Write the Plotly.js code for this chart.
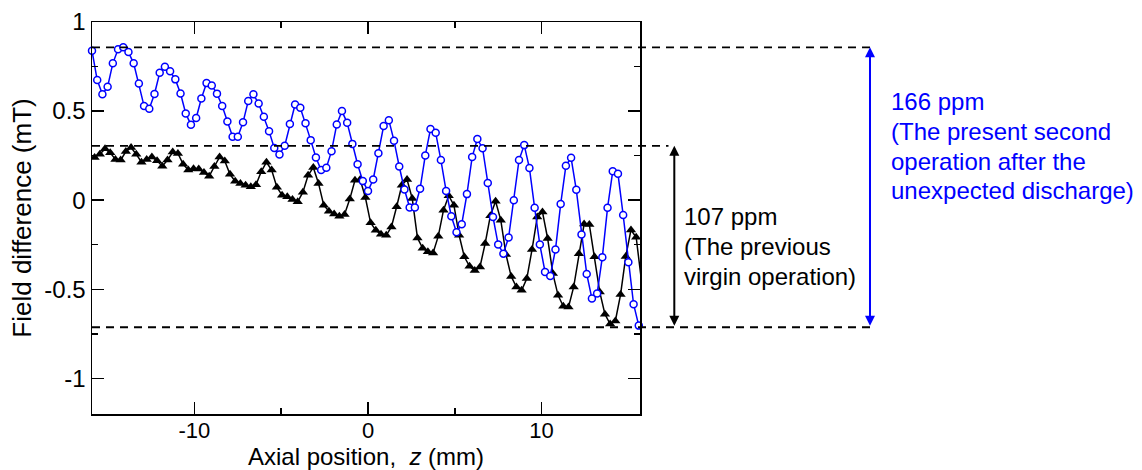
<!DOCTYPE html>
<html>
<head>
<meta charset="utf-8">
<script src="https://cdn.plot.ly/plotly-3.0.1.min.js"></script>
<style>
  html, body { margin: 0; padding: 0; background: #fff; }
  #chart { width: 1142px; height: 470px; }
</style>
</head>
<body>
<div id="chart"></div>
<script>
// Axial positions (mm) of the present second operation (blue circles), 0.3 mm pitch
const zPresent = [-15.9,-15.6,-15.3,-15.0,-14.7,-14.4,-14.1,-13.8,-13.5,-13.2,
  -12.9,-12.6,-12.3,-12.0,-11.7,-11.4,-11.1,-10.8,-10.5,-10.2,
  -9.9,-9.6,-9.3,-9.0,-8.7,-8.4,-8.1,-7.8,-7.5,-7.2,
  -6.9,-6.6,-6.3,-6.0,-5.7,-5.4,-5.1,-4.8,-4.5,-4.2,
  -3.9,-3.6,-3.3,-3.0,-2.7,-2.4,-2.1,-1.8,-1.5,-1.2,
  -0.9,-0.6,-0.3,0.0,0.3,0.6,0.9,1.2,1.5,1.8,
  2.1,2.4,2.7,3.0,3.3,3.6,3.9,4.2,4.5,4.8,
  5.1,5.4,5.7,6.0,6.3,6.6,6.9,7.2,7.5,7.8,
  8.1,8.4,8.7,9.0,9.3,9.6,9.9,10.2,10.5,10.8,
  11.1,11.4,11.7,12.0,12.3,12.6,12.9,13.2,13.5,13.8,
  14.1,14.4,14.7,15.0,15.3,15.6];
// Field difference (mT), present second operation after the unexpected discharge
const bPresent = [0.839,0.674,0.594,0.637,0.768,0.847,0.858,0.831,0.768,0.655,
  0.528,0.513,0.596,0.715,0.749,0.723,0.678,0.599,0.487,0.423,
  0.461,0.571,0.657,0.644,0.598,0.529,0.441,0.356,0.356,0.437,
  0.556,0.594,0.542,0.468,0.387,0.293,0.257,0.305,0.427,0.537,
  0.519,0.432,0.337,0.240,0.169,0.182,0.275,0.425,0.500,0.434,
  0.316,0.202,0.107,0.052,0.116,0.264,0.416,0.449,0.333,0.189,
  0.060,-0.041,-0.041,0.064,0.251,0.399,0.378,0.225,0.052,-0.090,
  -0.180,-0.135,0.034,0.242,0.343,0.292,0.097,-0.094,-0.249,-0.300,
  -0.210,0.000,0.225,0.309,0.180,-0.043,-0.249,-0.403,-0.425,-0.277,
  -0.022,0.193,0.238,0.058,-0.193,-0.414,-0.552,-0.524,-0.320,-0.043,
  0.163,0.148,-0.083,-0.348,-0.584,-0.704];

// Axial positions (mm) of the previous virgin operation (black triangles), 0.3 mm pitch
const zPrevious = [-15.75,-15.45,-15.15,-14.85,-14.55,-14.25,-13.95,-13.65,-13.35,-13.05,
  -12.75,-12.45,-12.15,-11.85,-11.55,-11.25,-10.95,-10.65,-10.35,-10.05,
  -9.75,-9.45,-9.15,-8.85,-8.55,-8.25,-7.95,-7.65,-7.35,-7.05,
  -6.75,-6.45,-6.15,-5.85,-5.55,-5.25,-4.95,-4.65,-4.35,-4.05,
  -3.75,-3.45,-3.15,-2.85,-2.55,-2.25,-1.95,-1.65,-1.35,-1.05,
  -0.75,-0.45,-0.15,0.15,0.45,0.75,1.05,1.35,1.65,1.95,
  2.25,2.55,2.85,3.15,3.45,3.75,4.05,4.35,4.65,4.95,
  5.25,5.55,5.85,6.15,6.45,6.75,7.05,7.35,7.65,7.95,
  8.25,8.55,8.85,9.15,9.45,9.75,10.05,10.35,10.65,10.95,
  11.25,11.55,11.85,12.15,12.45,12.75,13.05,13.35,13.65,13.95,
  14.25,14.55,14.85,15.15,15.45,15.75];
// Field difference (mT), previous virgin operation
const bPrevious = [0.240,0.258,0.288,0.266,0.229,0.225,0.273,0.296,0.258,0.213,
  0.229,0.243,0.221,0.191,0.225,0.270,0.262,0.202,0.169,0.176,
  0.175,0.155,0.135,0.189,0.242,0.220,0.145,0.106,0.094,0.084,
  0.075,0.087,0.160,0.213,0.169,0.073,0.028,0.019,0.004,-0.009,
  0.045,0.140,0.184,0.094,-0.028,-0.062,-0.077,-0.090,-0.080,0.006,
  0.112,0.116,0.015,-0.127,-0.169,-0.191,-0.197,-0.150,-0.037,0.084,
  0.116,0.009,-0.212,-0.270,-0.290,-0.296,-0.202,-0.056,0.025,-0.028,
  -0.197,-0.318,-0.371,-0.395,-0.375,-0.243,-0.087,-0.006,-0.112,-0.305,
  -0.428,-0.487,-0.506,-0.440,-0.277,-0.095,-0.066,-0.215,-0.412,-0.534,
  -0.595,-0.600,-0.487,-0.300,-0.134,-0.136,-0.318,-0.515,-0.640,-0.695,
  -0.678,-0.530,-0.316,-0.167,-0.208,-0.450];

// Reference levels (mT): max/min of each data set
const levelPresentMax = 0.858;
const levelPreviousMax = 0.305;
const levelCommonMin = -0.713;

// Tick labels
const xTickVals = [-10, 0, 10];
const xTickText = ['-10', '0', '10'];
const xMinorVals = [-5, 5];
const yTickVals = [-1, -0.5, 0, 0.5, 1];
const yTickText = ['-1', '-0.5', '0', '0.5', '1'];
const yMinorVals = [-0.75, -0.25, 0.25, 0.75];

// Annotation text lines
const previousLines = ['107 ppm', '(The previous', 'virgin operation)'];
const previousLineY = [-0.094, -0.258, -0.427];
const presentLines = ['166 ppm', '(The present second', 'operation after the', 'unexpected discharge)'];
const presentLineY = [0.552, 0.384, 0.219, 0.052];

const FONT = '"Liberation Sans", Arial, sans-serif';
const BLUE = '#0000ff';

const traces = [
  {
    x: zPrevious, y: bPrevious, type: 'scatter', mode: 'lines+markers',
    line: { color: '#000', width: 1.5 },
    marker: { symbol: 'triangle-up', size: 9, color: '#000' },
    cliponaxis: true, showlegend: false, hoverinfo: 'skip'
  },
  {
    x: zPresent, y: bPresent, type: 'scatter', mode: 'lines+markers',
    line: { color: BLUE, width: 1.5 },
    marker: { symbol: 'circle', size: 7, color: '#fff', line: { color: BLUE, width: 1.5 } },
    cliponaxis: false, showlegend: false, hoverinfo: 'skip'
  }
];

const axisCommon = {
  showline: true, linecolor: '#000', linewidth: 1.5, mirror: 'ticks',
  ticks: 'inside', ticklen: 12, tickwidth: 1.5, tickcolor: '#000',
  showgrid: false, zeroline: false,
  tickmode: 'array'
};

const dash = '8px,6px';
const shapes = [
  { type: 'line', xref: 'paper', yref: 'y', x0: 0, x1: 1.42, y0: levelPresentMax, y1: levelPresentMax,
    line: { color: '#000', width: 1.8, dash: dash } },
  { type: 'line', xref: 'paper', yref: 'y', x0: 0, x1: 1.052, y0: levelPreviousMax, y1: levelPreviousMax,
    line: { color: '#000', width: 1.8, dash: dash } },
  { type: 'line', xref: 'paper', yref: 'y', x0: 0, x1: 1.42, y0: levelCommonMin, y1: levelCommonMin,
    line: { color: '#000', width: 1.8, dash: dash } }
];

const arrowCommon = {
  xref: 'paper', yref: 'y', axref: 'pixel', ayref: 'y', ax: 0,
  text: '', showarrow: true, arrowside: 'end+start',
  arrowhead: 2, startarrowhead: 2, arrowsize: 1, startarrowsize: 1,
  arrowwidth: 2, standoff: 0, startstandoff: 0
};

const annotations = [
  Object.assign({}, arrowCommon, { x: 1.0626, y: levelPreviousMax, ay: levelCommonMin, arrowcolor: '#000' }),
  Object.assign({}, arrowCommon, { x: 1.4197, y: levelPresentMax, ay: levelCommonMin, arrowcolor: BLUE })
];
previousLines.forEach(function (t, i) {
  annotations.push({ xref: 'paper', yref: 'y', x: 1.076, y: previousLineY[i], xanchor: 'left', yanchor: 'middle',
    align: 'left', text: t, showarrow: false, font: { family: FONT, size: 24, color: '#000' } });
});
presentLines.forEach(function (t, i) {
  annotations.push({ xref: 'paper', yref: 'y', x: 1.454, y: presentLineY[i], xanchor: 'left', yanchor: 'middle',
    align: 'left', text: t, showarrow: false, font: { family: FONT, size: 24, color: BLUE } });
});

const layout = {
  width: 1142, height: 470,
  margin: { l: 92, r: 502, t: 22, b: 56, pad: 0 },
  paper_bgcolor: '#fff', plot_bgcolor: '#fff',
  font: { family: FONT, color: '#000' },
  xaxis: Object.assign({}, axisCommon, {
    range: [-15.9, 15.67], tickvals: xTickVals, ticktext: xTickText,
    tickfont: { family: FONT, size: 22, color: '#000' },
    ticklabelstandoff: -4,
    minor: { tickmode: 'array', tickvals: xMinorVals, ticks: 'inside', ticklen: 6, tickwidth: 1.5, tickcolor: '#000', showgrid: false },
    title: { text: 'Axial position,  <i>z</i> (mm)', font: { family: FONT, size: 24, color: '#000' }, standoff: 8 }
  }),
  yaxis: Object.assign({}, axisCommon, {
    range: [-1.2, 1], tickvals: yTickVals, ticktext: yTickText,
    tickfont: { family: FONT, size: 24, color: '#000' },
    minor: { tickmode: 'array', tickvals: yMinorVals, ticks: 'inside', ticklen: 6, tickwidth: 1.5, tickcolor: '#000', showgrid: false },
    title: { text: 'Field difference (mT)', font: { family: FONT, size: 26, color: '#000' }, standoff: 5 }
  }),
  shapes: shapes,
  annotations: annotations
};

Plotly.newPlot('chart', traces, layout, { staticPlot: true, displayModeBar: false });
</script>
</body>
</html>
